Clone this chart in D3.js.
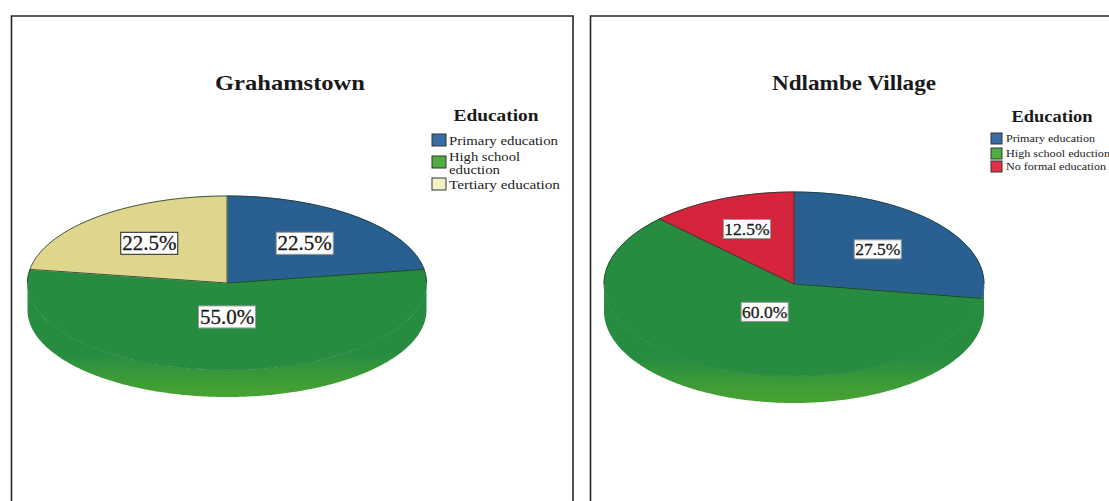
<!DOCTYPE html>
<html>
<head>
<meta charset="utf-8">
<script src="https://cdn.jsdelivr.net/npm/d3@7/dist/d3.min.js"></script>
<style>
  html, body { margin: 0; padding: 0; background: #fff; }
  svg { display: block; font-family: "Liberation Serif", serif; }
</style>
</head>
<body>
<svg id="chart" width="1109" height="501"></svg>
<script>
// Education shares (percent) per site
const grahamstownCategories = ["Primary education", "High school eduction", "Tertiary education"];
const grahamstownValues = [22.5, 55.0, 22.5];
const ndlambeCategories = ["Primary education", "High school eduction", "No formal education"];
const ndlambeValues = [27.5, 60.0, 12.5];

const legendTitle = "Education";
const sliceColors = {
  "Primary education": "#2a5f92",
  "High school eduction": "#278c40",
  "Tertiary education": "#dfd68d",
  "No formal education": "#d5243b"
};
const swatchColors = {
  "Primary education": "#3a6ca6",
  "High school eduction": "#4fae3e",
  "Tertiary education": "#f5f2c4",
  "No formal education": "#e52f44"
};

// Panel geometry, kept apart from the values
const panels = [
  {
    title: "Grahamstown", titleX: 290, titleLen: 150, titleSize: 22,
    categories: grahamstownCategories, values: grahamstownValues,
    frame: { x0: 11.5, x1: 573, top: 16 },
    cx: 227, cy: 283, rx: 199.5, ry: 87, depth: 27,
    labelRadius: [0.6, 0.39, 0.6], labelSize: 21, labelW: 57, labelH: 22,
    labelBorder: ["#999", "#999", "#222"],
    legend: {
      titleX: 496, titleY: 121, titleLen: 85, titleSize: 17,
      swatchX: 432, swatchW: 14, swatchH: 12, textX: 449, textSize: 13,
      rows: [
        { y: 134, lines: [["Primary education", 145, 109]] },
        { y: 156, lines: [["High school", 160.5, 71], ["eduction", 173.5, 51]] },
        { y: 178, lines: [["Tertiary education", 189, 111]] }
      ]
    }
  },
  {
    title: "Ndlambe Village", titleX: 854, titleLen: 164, titleSize: 22,
    categories: ndlambeCategories, values: ndlambeValues,
    frame: { x0: 590.5, x1: 1112, top: 16 },
    cx: 794, cy: 284, rx: 190, ry: 92, depth: 27,
    labelRadius: [0.58, 0.34, 0.647], labelSize: 17.5, labelW: 47, labelH: 19,
    labelBorder: ["#999", "#999", "#999"],
    legend: {
      titleX: 1052, titleY: 122, titleLen: 81, titleSize: 17,
      swatchX: 991, swatchW: 11, swatchH: 11, textX: 1006, textSize: 11,
      rows: [
        { y: 133, lines: [["Primary education", 142, 89]] },
        { y: 148, lines: [["High school eduction", 157, 104]] },
        { y: 161, lines: [["No formal education", 170, 100]] }
      ]
    }
  }
];

const svg = d3.select("#chart");
const defs = svg.append("defs");

panels.forEach((p, panelIndex) => {
  const g = svg.append("g");

  // Open-bottomed frame running off the page
  const f = p.frame;
  g.append("path")
    .attr("d", `M${f.x0},501V${f.top}H${f.x1}V501`)
    .attr("fill", "none")
    .attr("stroke", "#262626")
    .attr("stroke-width", 1.6);

  g.append("text")
    .attr("x", p.titleX).attr("y", 90)
    .attr("text-anchor", "middle")
    .attr("font-size", p.titleSize).attr("font-weight", "bold")
    .attr("textLength", p.titleLen).attr("lengthAdjust", "spacingAndGlyphs")
    .attr("fill", "#1a1a1a")
    .text(p.title);

  const pie = d3.pie().sort(null).value(d => d.value);
  const slices = pie(p.categories.map((c, i) => ({ category: c, value: p.values[i], index: i })));

  // Side wall of the disc: the front half of the rim, coloured by the slice facing the viewer
  const px = a => p.cx + p.rx * Math.sin(a);
  const py = a => p.cy - p.ry * Math.cos(a);
  const frontSlice = slices.find(s => s.startAngle <= Math.PI && s.endAngle >= Math.PI);
  const rim = d3.area().x(px).y0(py).y1(a => py(a) + p.depth);
  const wallId = `wall-${panelIndex}`;
  const grad = defs.append("linearGradient")
    .attr("id", wallId)
    .attr("gradientUnits", "userSpaceOnUse")
    .attr("x1", 0).attr("x2", 0)
    .attr("y1", p.cy).attr("y2", p.cy + p.ry + p.depth);
  grad.append("stop").attr("offset", 0).attr("stop-color", sliceColors[frontSlice.data.category]);
  grad.append("stop").attr("offset", 0.62).attr("stop-color", sliceColors[frontSlice.data.category]);
  grad.append("stop").attr("offset", 0.82).attr("stop-color", "#3a9a38");
  grad.append("stop").attr("offset", 1).attr("stop-color", "#48a430");
  const frontAngles = d3.range(Math.PI / 2, 3 * Math.PI / 2, 0.01).concat([3 * Math.PI / 2]);
  g.append("path")
    .attr("d", rim(frontAngles))
    .attr("fill", `url(#${wallId})`);

  // Top face: a unit-circle arc stretched into an ellipse; the self-coloured
  // stroke closes the hairline seam against the wall
  const arc = d3.arc().innerRadius(0).outerRadius(1);
  g.append("g")
    .attr("transform", `translate(${p.cx},${p.cy}) scale(${p.rx},${p.ry})`)
    .selectAll("path")
    .data(slices)
    .join("path")
    .attr("d", arc)
    .attr("fill", d => sliceColors[d.data.category])
    .attr("stroke", d => sliceColors[d.data.category])
    .attr("stroke-width", 1)
    .attr("vector-effect", "non-scaling-stroke");

  // Outline: slice boundaries and the far half of the rim only
  const edge = d3.line().x(px).y(py);
  const backAngles = d3.range(-Math.PI / 2, Math.PI / 2, 0.01).concat([Math.PI / 2]);
  g.append("path")
    .attr("d", edge(backAngles))
    .attr("fill", "none")
    .attr("stroke", "#1d3b33").attr("stroke-width", 1).attr("stroke-opacity", 0.85);
  g.selectAll(null)
    .data(slices)
    .join("line")
    .attr("x1", p.cx).attr("y1", p.cy)
    .attr("x2", d => px(d.startAngle)).attr("y2", d => py(d.startAngle))
    .attr("stroke", "#1d3b33").attr("stroke-width", 1).attr("stroke-opacity", 0.85);

  // Value labels on white boxes
  slices.forEach((s, i) => {
    const mid = (s.startAngle + s.endAngle) / 2;
    const r = p.labelRadius[i];
    const x = p.cx + p.rx * r * Math.sin(mid);
    const y = p.cy - p.ry * r * Math.cos(mid);
    g.append("rect")
      .attr("x", x - p.labelW / 2).attr("y", y - p.labelH / 2)
      .attr("width", p.labelW).attr("height", p.labelH)
      .attr("fill", "#fff")
      .attr("stroke", p.labelBorder[i])
      .attr("stroke-width", 1);
    g.append("text")
      .attr("x", x).attr("y", y + p.labelSize * 0.33)
      .attr("text-anchor", "middle")
      .attr("font-size", p.labelSize)
      .attr("fill", "#1a1a1a")
      .attr("stroke", "#1a1a1a").attr("stroke-width", 0.3)
      .text(s.data.value.toFixed(1) + "%");
  });

  // Legend
  const l = p.legend;
  g.append("text")
    .attr("x", l.titleX).attr("y", l.titleY)
    .attr("text-anchor", "middle")
    .attr("font-size", l.titleSize).attr("font-weight", "bold")
    .attr("textLength", l.titleLen).attr("lengthAdjust", "spacingAndGlyphs")
    .attr("fill", "#1a1a1a")
    .text(legendTitle);

  l.rows.forEach((row, i) => {
    g.append("rect")
      .attr("x", l.swatchX).attr("y", row.y)
      .attr("width", l.swatchW).attr("height", l.swatchH)
      .attr("fill", swatchColors[p.categories[i]])
      .attr("stroke", "#333").attr("stroke-width", 1);
    row.lines.forEach(([txt, baseline, len]) => {
      g.append("text")
        .attr("x", l.textX).attr("y", baseline)
        .attr("font-size", l.textSize)
        .attr("textLength", len).attr("lengthAdjust", "spacingAndGlyphs")
        .attr("fill", "#222")
        .text(txt);
    });
  });
});
</script>
</body>
</html>
